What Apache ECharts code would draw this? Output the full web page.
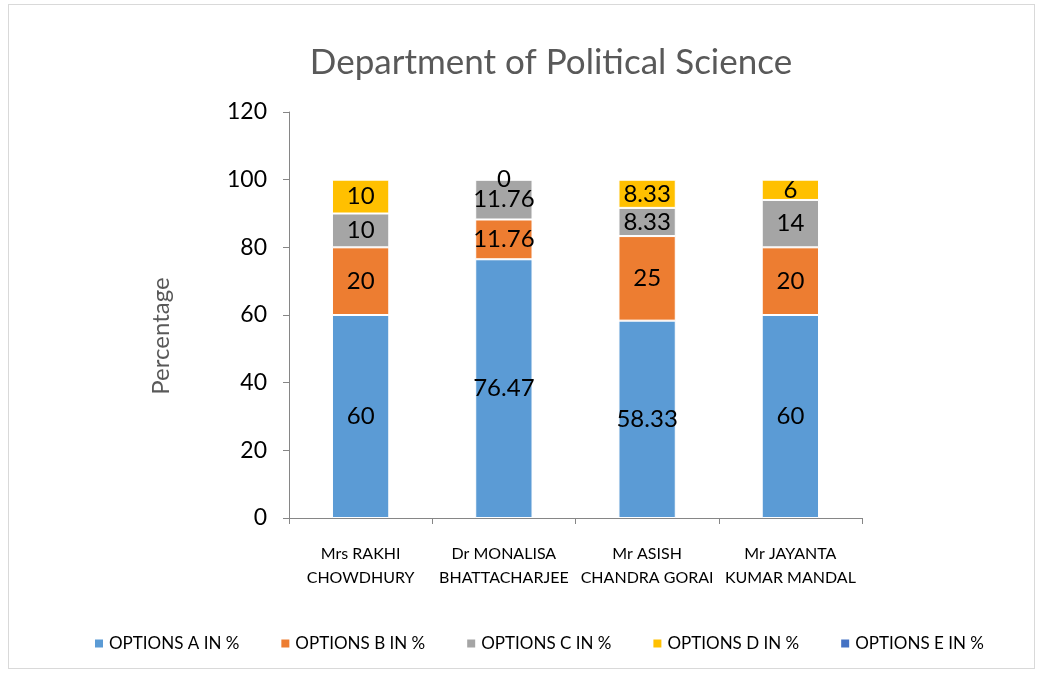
<!DOCTYPE html>
<html><head><meta charset="utf-8">
<script src="https://cdn.jsdelivr.net/npm/echarts@6/dist/echarts.min.js"></script>
<style>
html,body{margin:0;padding:0;background:#fff;}
#frame{position:absolute;left:8px;top:4px;width:1027px;height:665px;border:1px solid #d9d9d9;box-sizing:border-box;}
#c{position:absolute;left:0;top:0;width:1041px;height:675px;}
</style></head>
<body><div id="frame"></div><div id="c"></div>
<script>
const categories = ["Mrs RAKHI\nCHOWDHURY","Dr MONALISA\nBHATTACHARJEE","Mr ASISH\nCHANDRA GORAI","Mr JAYANTA\nKUMAR MANDAL"];
const seriesNames = ["OPTIONS A IN %","OPTIONS B IN %","OPTIONS C IN %","OPTIONS D IN %","OPTIONS E IN %"];
const optionA = [60, 76.47, 58.33, 60];
const optionB = [20, 11.76, 25, 20];
const optionC = [10, 11.76, 8.33, 14];
const optionD = [10, 0, 8.33, 6];
const optionE = [null, null, null, null];
const colors = ["#5B9BD5","#ED7D31","#A5A5A5","#FFC000","#4472C4"];
const font = "Lato, 'Open Sans', sans-serif";
const chart = echarts.init(document.getElementById('c'));
const values = [optionA, optionB, optionC, optionD, optionE];
chart.setOption({
  animation:false,
  title:{text:"Department of Political Science",left:546,top:40,textAlign:'center',
    textStyle:{fontFamily:font,fontSize:35,fontWeight:'normal',color:'#595959'}},
  grid:{left:289,right:179,top:112,bottom:157},
  legend:{bottom:18,left:88,itemWidth:10,itemHeight:10,itemGap:40,icon:'rect',
    textStyle:{fontFamily:font,fontSize:17,color:'#000'},data:seriesNames},
  xAxis:{type:'category',data:categories,
    axisLine:{lineStyle:{color:'#868686'}},
    axisTick:{show:true,alignWithLabel:false,length:6,lineStyle:{color:'#868686'}},
    axisLabel:{fontFamily:font,fontSize:16,color:'#000',margin:24,lineHeight:24,interval:0}},
  yAxis:{type:'value',min:0,max:120,interval:20,name:'Percentage',nameLocation:'middle',nameGap:116,
    nameTextStyle:{fontFamily:font,fontSize:24,color:'#595959',padding:[0,42,0,0]},
    axisLine:{show:true,lineStyle:{color:'#868686'}},
    axisTick:{show:true,length:6,lineStyle:{color:'#868686'}},
    splitLine:{show:false},
    axisLabel:{fontFamily:font,fontSize:23,color:'#000',margin:22}},
  series: seriesNames.map((n,i)=>({
    name:n,type:'bar',stack:'total',barWidth:'40%',data:values[i],
    itemStyle:{color:colors[i],borderColor:'#fff',borderWidth:1},
    label:{show:i<4,position:'inside',fontFamily:font,fontSize:24,color:'#000'}
  }))
});
</script></body></html>
